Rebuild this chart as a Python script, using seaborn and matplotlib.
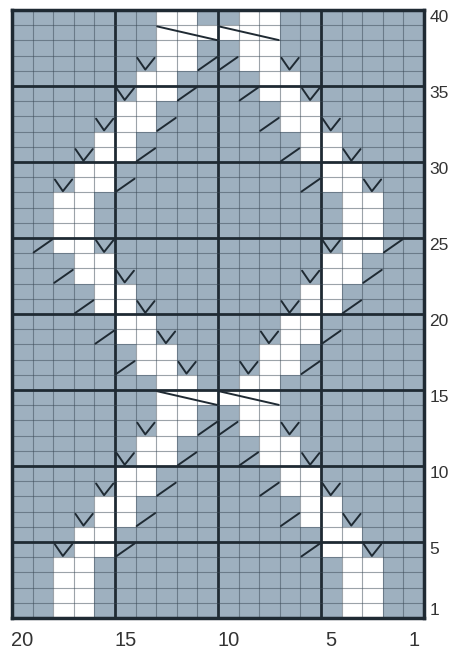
import numpy as np
import pandas as pd
import matplotlib
matplotlib.use("Agg")
import matplotlib.pyplot as plt
import seaborn as sns
from matplotlib.colors import ListedColormap

sns.set_style("white")
plt.rcParams["font.family"] = ["Liberation Sans", "DejaVu Sans"]

# chart rows (top to bottom) and stitch columns (left to right)
rows = list(range(40, 0, -1))
cols = list(range(20, 0, -1))

# left ribbon: higher column number of its two white stitches, rows 40..1
left_band = [13, 13, 13, 13, 14, 14, 15, 15, 16, 16, 17, 17, 18, 18, 18, 18,
             17, 17, 16, 16, 15, 15, 14, 14, 13, 13, 13, 13, 14, 14, 15, 15,
             16, 16, 17, 17, 18, 18, 18, 18]
# right ribbon: lower column number of its two white stitches, rows 40..1
right_band = [8, 8, 8, 8, 7, 7, 6, 6, 5, 5, 4, 4, 3, 3, 3, 3,
              4, 4, 5, 5, 6, 6, 7, 7, 8, 8, 8, 8, 7, 7, 6, 6,
              5, 5, 4, 4, 3, 3, 3, 3]

# cable crossings
cable_rows = [39, 15]
cable_left = [13, 12, 11]
cable_right = [10, 9, 8]

# symbols (column, row)
v_marks = [(14, 37), (7, 37), (15, 35), (6, 35), (16, 33), (5, 33), (17, 31), (4, 31),
           (18, 29), (3, 29), (16, 25), (5, 25), (15, 23), (6, 23), (14, 21), (7, 21),
           (13, 19), (8, 19), (12, 17), (9, 17), (14, 13), (7, 13), (15, 11), (6, 11),
           (16, 9), (5, 9), (17, 7), (4, 7), (18, 5), (3, 5)]
slash_marks = [(11, 37), (10, 37), (12, 35), (9, 35), (13, 33), (8, 33), (14, 31), (7, 31),
               (15, 29), (6, 29), (19, 25), (2, 25), (18, 23), (3, 23), (17, 21), (4, 21),
               (16, 19), (5, 19), (15, 17), (6, 17), (11, 13), (10, 13), (12, 11), (9, 11),
               (13, 9), (8, 9), (14, 7), (7, 7), (15, 5), (6, 5)]

x_ticks = [20, 15, 10, 5, 1]
y_ticks = [40, 35, 30, 25, 20, 15, 10, 5, 1]

# build stitch grid (1 = white)
grid = pd.DataFrame(0, index=rows, columns=cols)
for r, lb, rb in zip(rows, left_band, right_band):
    grid.loc[r, [lb, lb - 1]] = 1
    grid.loc[r, [rb, rb + 1]] = 1
for r in cable_rows:
    grid.loc[r, cable_left + cable_right] = 1

blue = "#9eb0bf"
ink = "#1f2a33"

fig = plt.figure(figsize=(4.49, 6.52), dpi=100)
ax = fig.add_axes([12 / 449, 34 / 652, 412 / 449, 608 / 652])
sns.heatmap(grid, cmap=ListedColormap([blue, "white"]), vmin=0, vmax=1,
            cbar=False, ax=ax, xticklabels=False, yticklabels=False)

def xc(c):
    return cols.index(c)

def yr(r):
    return rows.index(r)

# grid lines
for i in range(1, len(cols)):
    if i % 5 == 0:
        ax.axvline(i, color=ink, lw=2.0)
    else:
        ax.axvline(i, color="#3a4855", lw=0.8, alpha=0.5)
for i in range(1, len(rows)):
    if i % 5 == 0:
        ax.axhline(i, color=ink, lw=2.0)
    else:
        ax.axhline(i, color="#3a4855", lw=0.8, alpha=0.5)

# V symbols
for c, r in v_marks:
    x, y = xc(c), yr(r)
    ax.plot([x + 0.08, x + 0.47, x + 0.92], [y + 0.15, y + 0.92, y + 0.15],
            color=ink, lw=1.4, solid_capstyle="round")

# slash symbols
for c, r in slash_marks:
    x, y = xc(c), yr(r)
    ax.plot([x + 0.05, x + 0.95], [y + 0.95, y + 0.1], color=ink, lw=1.4,
            solid_capstyle="round")

# cable crossings
for r in cable_rows:
    y = yr(r)
    for group in [cable_left, cable_right]:
        x0 = xc(group[0])
        x1 = xc(group[-1]) + 1
        ax.plot([x0 + 0.05, x1 - 0.05], [y + 0.08, y + 0.98], color=ink, lw=1.4)

# ticks
ax.set_xticks([xc(c) + 0.5 for c in x_ticks])
ax.set_xticklabels([str(c) for c in x_ticks], fontsize=14.5, color="#333333")
ax.set_yticks([yr(r) + 0.5 for r in y_ticks])
ax.set_yticklabels([str(r) for r in y_ticks], fontsize=12.5, color="#333333",
                   rotation=0, va="center")
ax.yaxis.tick_right()
ax.tick_params(axis="x", length=0, pad=9)
ax.tick_params(axis="y", length=0, pad=4)
ax.set_xlabel("")
ax.set_ylabel("")

for s in ax.spines.values():
    s.set_visible(True)
    s.set_color(ink)
    s.set_linewidth(2.5)

fig.savefig("out.png", dpi=100)
